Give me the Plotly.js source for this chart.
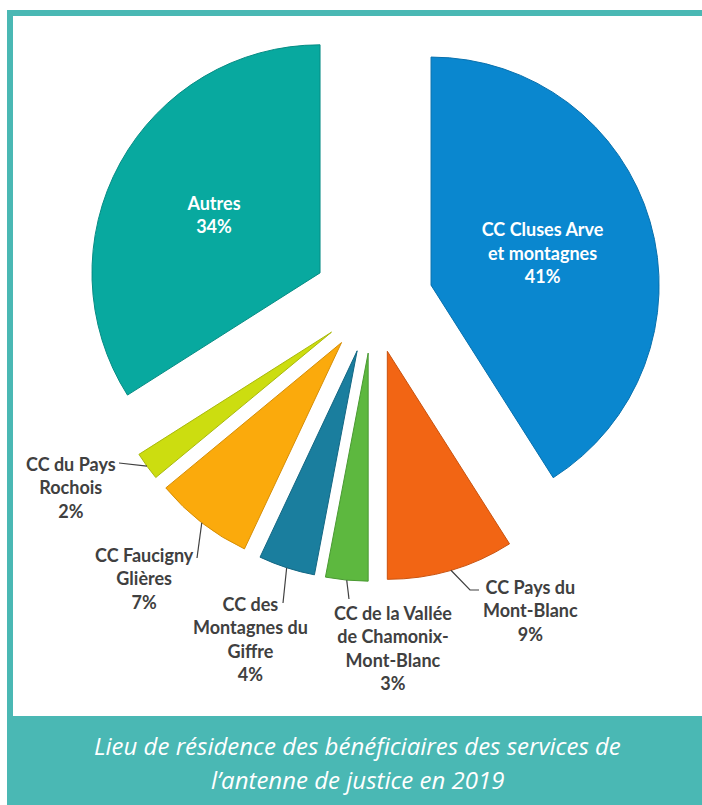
<!DOCTYPE html>
<html>
<head>
<meta charset="utf-8">
<script src="https://cdn.plot.ly/plotly-3.0.1.min.js"></script>
<style>html,body{margin:0;padding:0;background:#fff;}#chart{width:702px;height:805px;}</style>
</head>
<body>
<div id="chart"></div>
<script>
// Data (percent of beneficiaries, 2019)
const categories = [
  "CC Cluses Arve et montagnes",
  "CC Pays du Mont-Blanc",
  "CC de la Vallée de Chamonix-Mont-Blanc",
  "CC des Montagnes du Giffre",
  "CC Faucigny Glières",
  "CC du Pays Rochois",
  "Autres"
];
const labelLines = [
  "CC Cluses Arve<br>et montagnes",
  "CC Pays du<br>Mont-Blanc",
  "CC de la Vallée<br>de Chamonix-<br>Mont-Blanc",
  "CC des<br>Montagnes du<br>Giffre",
  "CC Faucigny<br>Glières",
  "CC du Pays<br>Rochois",
  "Autres"
];
const shares = [41, 9, 3, 4, 7, 2, 34];
const sliceColors = ["#0A87CF", "#F26514", "#5DB83F", "#1A7E9E", "#FBAA0C", "#CCDD10", "#08A99F"];
const edgeColors  = ["#0870AD", "#C9520E", "#4A9A32", "#136783", "#D68E06", "#A9B80C", "#068C84"];
const pulls = [0.265, 0.225, 0.225, 0.225, 0.225, 0.225, 0.265];
const textPos = ["inside", "none", "none", "none", "none", "none", "inside"];

// Placement of the outside labels (pixels): block centre, and text-side end of the leader line
// elbow = optional bend point of the leader line
const outsideLabels = [
  { i: 1, cx: 530, cy: 610, end: [479, 590], elbow: [470, 590] },
  { i: 2, cx: 393, cy: 648, end: [349, 599] },
  { i: 3, cx: 250, cy: 639, end: [283, 603] },
  { i: 4, cx: 144, cy: 578, end: [197, 558] },
  { i: 5, cx: 71,  cy: 487, end: [119, 463] }
];

const W = 702, H = 805;
const teal = "#4AB8B4";
const textGrey = "#404040";
function px(x){ return x / W; }
function py(y){ return 1 - y / H; }

// pie domain in pixels
const dom = { x0: 84.5, x1: 661.5, y0: 13.5, y1: 590.5 };

const trace = {
  type: "pie",
  labels: categories,
  values: shares,
  text: labelLines,
  textinfo: "text+percent",
  textposition: textPos,
  sort: false,
  direction: "clockwise",
  rotation: 0,
  pull: pulls,
  marker: { colors: sliceColors, line: { color: edgeColors, width: 1 } },
  insidetextorientation: "horizontal",
  insidetextfont: { family: "Lato, 'Open Sans', sans-serif", size: 18, color: "#FFFFFF", weight: "bold" },
  domain: { x: [px(dom.x0), px(dom.x1)], y: [py(dom.y1), py(dom.y0)] },
  hoverinfo: "label+percent",
  showlegend: false
};

// Same geometry Plotly uses for the pie: radius, centre, slice mid-angles, pull offsets
const maxPull = Math.max(...pulls);
const R = Math.min(dom.x1 - dom.x0, dom.y1 - dom.y0) / (2 + 2 * maxPull);
const CX = (dom.x0 + dom.x1) / 2, CY = (dom.y0 + dom.y1) / 2;
const total = shares.reduce((a, b) => a + b, 0);
const midAngle = [];
{ let acc = 0; for (const v of shares) { midAngle.push((acc + v / 2) / total * 2 * Math.PI); acc += v; } }
function outerPoint(i) {
  const a = midAngle[i];
  const dx = Math.sin(a), dy = -Math.cos(a);
  const d = R * (1 + pulls[i]);
  return [CX + dx * d, CY + dy * d];
}

const shapes = [
  { type: "rect", xref: "paper", yref: "paper", x0: px(7), x1: px(702), y0: py(16), y1: py(10), fillcolor: teal, line: { width: 0 }, layer: "below" },
  { type: "rect", xref: "paper", yref: "paper", x0: px(7), x1: px(13), y0: py(716), y1: py(10), fillcolor: teal, line: { width: 0 }, layer: "below" },
  { type: "rect", xref: "paper", yref: "paper", x0: px(7), x1: px(702), y0: 0, y1: py(716), fillcolor: teal, line: { width: 0 }, layer: "below" }
];
const annotations = [
  { xref: "paper", yref: "paper", x: px(357), y: py(745), xanchor: "center", yanchor: "middle", showarrow: false,
    text: "<i>Lieu de résidence des bénéficiaires des services de</i>",
    font: { family: "'Open Sans', Lato, sans-serif", size: 24, color: "#FFFFFF" } },
  { xref: "paper", yref: "paper", x: px(357), y: py(779), xanchor: "center", yanchor: "middle", showarrow: false,
    text: "<i>l’antenne de justice en 2019</i>",
    font: { family: "'Open Sans', Lato, sans-serif", size: 24, color: "#FFFFFF" } }
];

for (const L of outsideLabels) {
  annotations.push({
    xref: "paper", yref: "paper", x: px(L.cx), y: py(L.cy), xanchor: "center", yanchor: "middle",
    showarrow: false, align: "center",
    text: labelLines[L.i] + "<br>" + shares[L.i] + "%",
    font: { family: "Lato, 'Open Sans', sans-serif", size: 18, color: textGrey, weight: "bold" }
  });
  const p = outerPoint(L.i);
  let path = "M" + px(p[0]) + "," + py(p[1]);
  if (L.elbow) path += " L" + px(L.elbow[0]) + "," + py(L.elbow[1]);
  path += " L" + px(L.end[0]) + "," + py(L.end[1]);
  shapes.push({ type: "path", xref: "paper", yref: "paper", path: path, line: { color: textGrey, width: 1.2 } });
}

const layout = {
  width: W, height: H,
  margin: { l: 0, r: 0, t: 0, b: 0 },
  paper_bgcolor: "#FFFFFF",
  showlegend: false,
  shapes: shapes,
  annotations: annotations
};

Plotly.newPlot("chart", [trace], layout, { displayModeBar: false, staticPlot: true });
</script>
</body>
</html>
